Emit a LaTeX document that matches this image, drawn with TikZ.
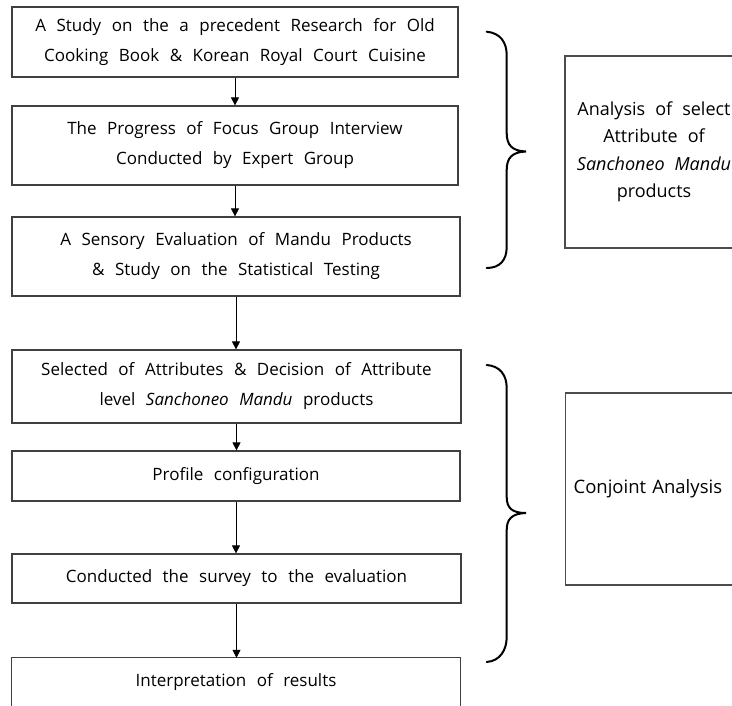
\documentclass[tikz,border=0pt]{standalone}
\usepackage{fontspec}
\setmainfont{Open Sans}
\usetikzlibrary{arrows.meta}
\newcommand\boxfont{\fontsize{17pt}{30pt}\selectfont\spaceskip 10.5pt plus 2pt\relax}
\newcommand\sidefont{\fontsize{18pt}{27.5pt}\selectfont\spaceskip 10pt plus 2pt\relax}
\newcommand\sidefontb{\fontsize{18.5pt}{27.5pt}\selectfont\spaceskip 13pt plus 2pt\relax}
\begin{document}
\begin{tikzpicture}[x=1pt,y=-1pt,
  box/.style={draw=black!75, line width=1.2pt, align=center, inner sep=0pt, font=\boxfont},
  plain/.style={align=center, inner sep=0pt, font=\boxfont},
  frame/.style={draw=black!75, line width=1.2pt},
  rbox/.style={draw=black!70, line width=1.2pt, inner sep=0pt, font=\sidefont},
  arr/.style={-{Triangle[length=8pt,width=8pt]}, line width=0.8pt},
  brc/.style={line width=2pt, line cap=round}]
\useasboundingbox (0,0) rectangle (732,706);
\clip (0,0) rectangle (732,706);
\fill[white] (0,0) rectangle (732,706);

\node[box, minimum width=446pt, minimum height=70pt] (b1) at (235,42)
  {A Study on the a precedent Research for Old\\Cooking Book \& Korean Royal Court Cuisine};
\node[box, minimum width=446pt, minimum height=79pt] (b2) at (235,145.5)
  {The Progress of Focus Group Interview\\Conducted by Expert Group};
\node[box, minimum width=448pt, minimum height=79pt] (b3) at (236,256.5)
  {A Sensory Evaluation of Mandu Products\\\& Study on the Statistical Testing};
\node[box, minimum width=449pt, minimum height=73pt] (b4) at (236.5,386.5)
  {Selected of Attributes \& Decision of Attribute\\level \textit{Sanchoneo Mandu} products};
\node[box, minimum width=448pt, minimum height=50pt] (b5) at (236,476)
  {Profile configuration};
\node[box, minimum width=449pt, minimum height=49pt] (b6) at (236.5,578.5)
  {Conducted the survey to the evaluation};
\node[plain, minimum width=448pt, minimum height=48pt] (b7) at (236,682)
  {Interpretation of results};
\draw[frame] ([yshift=-14pt]b7.south west) |- (b7.north east) -- ([yshift=-14pt]b7.south east);

\draw[arr] (b1.south) -- (b1.south |- b2.north);
\draw[arr] (b2.south) -- (b2.south |- b3.north);
\draw[arr] (b3.south) -- (b3.south |- b4.north);
\draw[arr] (b4.south) -- (b4.south |- b5.north);
\draw[arr] (b5.south) -- (b5.south |- b6.north);
\draw[arr] (b6.south) -- (b6.south |- b7.north);

\draw[brc] (486.7,31.7) .. controls (500,33) and (506.7,42) .. (506.7,55)
  -- (506.7,133) .. controls (506.7,145) and (512,151) .. (526,151.5)
  .. controls (512,152) and (506.7,158) .. (506.7,170)
  -- (506.7,247) .. controls (506.7,260) and (500,268) .. (486.7,268);
\draw[brc] (486.7,365) .. controls (500,366) and (506.7,375) .. (506.7,388)
  -- (506.7,497) .. controls (506.7,508) and (512,513) .. (526,513)
  .. controls (512,513.5) and (506.7,519) .. (506.7,530)
  -- (506.7,637) .. controls (506.7,650) and (500,661) .. (486.7,662);

\node[rbox, align=center, minimum width=178pt, minimum height=192pt] (r1) at (654,152)
  {Analysis of select\\Attribute of\\\textit{Sanchoneo Mandu}\\products};
\node[rbox, font=\sidefontb, align=left, anchor=west, text width=160pt, inner xsep=8pt, minimum height=192pt] (r2) at (565,489)
  {Conjoint Analysis};
\end{tikzpicture}
\end{document}
